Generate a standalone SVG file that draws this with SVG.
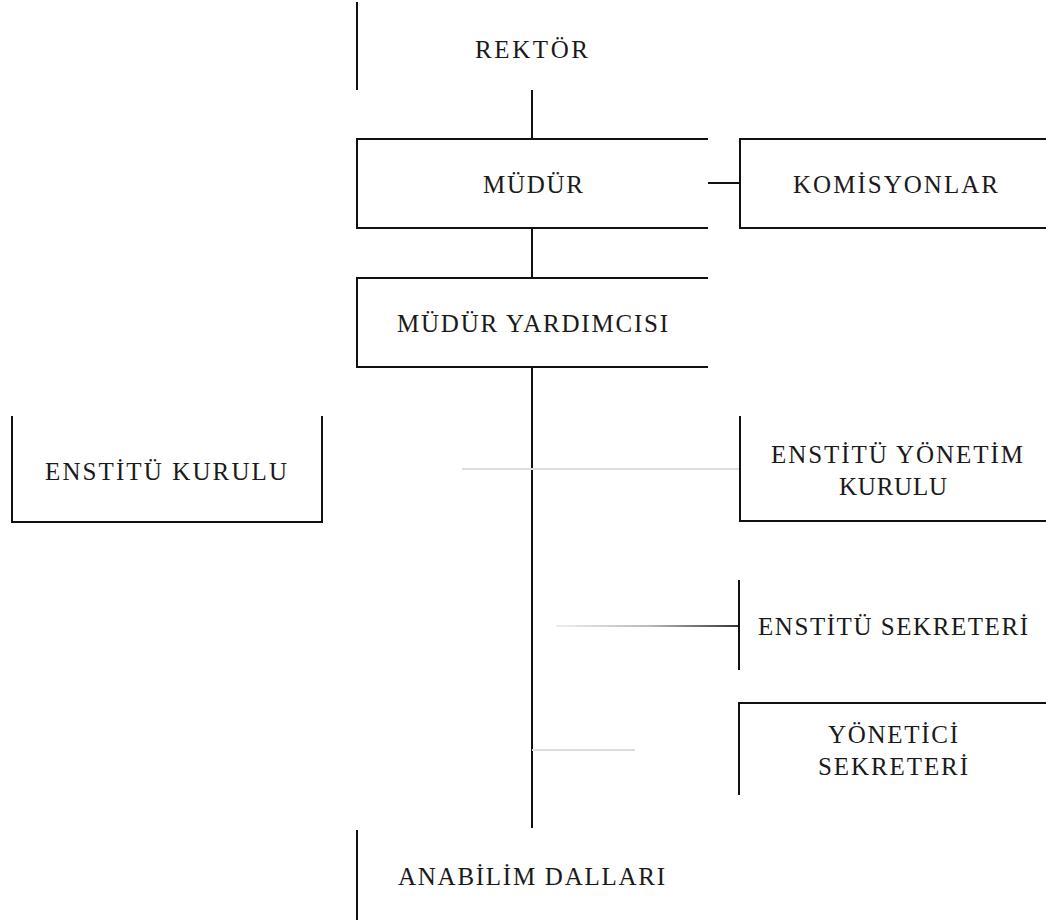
<svg xmlns="http://www.w3.org/2000/svg" width="1046" height="922" viewBox="0 0 1046 922">
<style>
.ln{stroke:#111;stroke-width:2;fill:none}
.gr{stroke:#ddd;stroke-width:2;fill:none}
text{font-family:"Liberation Serif","Times New Roman",serif;font-size:25px;fill:#1a1a1a;text-anchor:middle}
</style>
<defs>
<linearGradient id="fade" gradientUnits="userSpaceOnUse" x1="556" y1="0" x2="740" y2="0">
<stop offset="0" stop-color="#eee"/>
<stop offset="0.5" stop-color="#bbb"/>
<stop offset="1" stop-color="#333"/>
</linearGradient>
</defs>
<g id="connectors">
<line class="ln" x1="532" y1="90" x2="532" y2="139"/>
<line class="ln" x1="532" y1="228" x2="532" y2="278"/>
<line class="ln" x1="532" y1="367" x2="532" y2="828"/>
<line class="ln" x1="708" y1="183" x2="740" y2="183"/>
<line class="gr" x1="462" y1="469" x2="740" y2="469"/>
<line stroke="url(#fade)" stroke-width="2" x1="556" y1="626" x2="739" y2="626"/>
<line class="gr" x1="532" y1="750" x2="635" y2="750"/>
</g>
<g id="rektor">
<line class="ln" x1="357" y1="2" x2="357" y2="90"/>
<text x="531.5" y="58" font-size="26" textLength="113" lengthAdjust="spacing">REKTÖR</text>
</g>
<g id="mudur">
<path class="ln" d="M708,139 H357 V228 H708"/>
<text x="533" y="193" textLength="100" lengthAdjust="spacing">MÜDÜR</text>
</g>
<g id="komisyonlar">
<path class="ln" d="M1046,139 H740 V228 H1046"/>
<text x="895.5" y="193" textLength="205" lengthAdjust="spacing">KOMİSYONLAR</text>
</g>
<g id="mudur-yardimcisi">
<path class="ln" d="M708,278 H357 V367 H708"/>
<text x="532.5" y="332" textLength="271" lengthAdjust="spacing">MÜDÜR YARDIMCISI</text>
</g>
<g id="enstitu-kurulu">
<path class="ln" d="M12,416 V522 H322 V416"/>
<text x="166" y="480" textLength="242" lengthAdjust="spacing">ENSTİTÜ KURULU</text>
</g>
<g id="enstitu-yonetim-kurulu">
<path class="ln" d="M740,416 V521 H1046"/>
<text x="897" y="463" textLength="252" lengthAdjust="spacing">ENSTİTÜ YÖNETİM</text>
<text x="893" y="495" textLength="108" lengthAdjust="spacing">KURULU</text>
</g>
<g id="enstitu-sekreteri">
<line class="ln" x1="739" y1="580" x2="739" y2="670"/>
<text x="893" y="635" textLength="270" lengthAdjust="spacing">ENSTİTÜ SEKRETERİ</text>
</g>
<g id="yonetici-sekreteri">
<path class="ln" d="M1046,703 H739 V795"/>
<text x="893" y="743" textLength="130" lengthAdjust="spacing">YÖNETİCİ</text>
<text x="893" y="775" textLength="150" lengthAdjust="spacing">SEKRETERİ</text>
</g>
<g id="anabilim-dallari">
<line class="ln" x1="357" y1="830" x2="357" y2="920"/>
<text x="531.5" y="885" textLength="267" lengthAdjust="spacing">ANABİLİM DALLARI</text>
</g>
</svg>
